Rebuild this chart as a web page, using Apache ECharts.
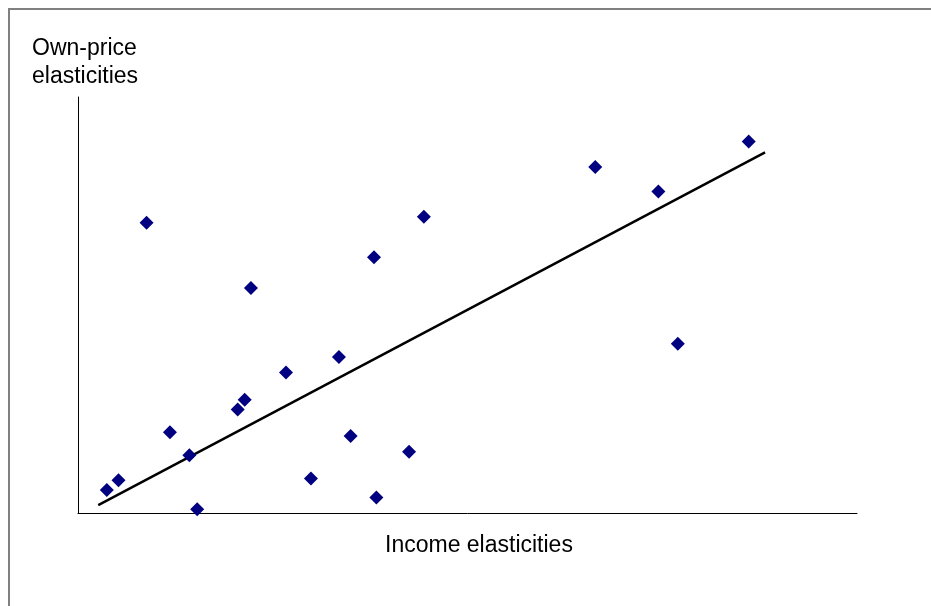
<!DOCTYPE html>
<html>
<head>
<meta charset="utf-8">
<script src="https://cdn.jsdelivr.net/npm/echarts@6/dist/echarts.min.js"></script>
<style>
html,body{margin:0;padding:0;background:#fff;}
#chart{width:931px;height:606px;}
</style>
</head>
<body>
<div id="chart"></div>
<script>
// Income elasticities (x) and own-price elasticities (y), relative scale 0-100
const incomeElasticities = [3.7, 5.2, 8.8, 11.8, 14.3, 15.3, 20.5, 21.4, 22.2, 26.7, 29.9, 33.5, 35.0, 38.0, 38.3, 42.5, 44.4, 66.4, 74.5, 77.0, 86.1];
const ownPriceElasticities = [5.5, 7.9, 69.8, 19.4, 13.9, 0.9, 24.9, 27.2, 54.1, 33.8, 8.3, 37.5, 18.5, 61.5, 3.7, 14.7, 71.2, 83.2, 77.3, 40.7, 89.3];
// Fitted trend line end points
const trendX = [2.6, 88.2];
const trendY = [1.9, 86.7];

const scatterData = incomeElasticities.map((x, i) => [x, ownPriceElasticities[i]]);
const trendData = trendX.map((x, i) => [x, trendY[i]]);

const labelFont = {fontFamily: 'Liberation Sans, Arial, sans-serif', fontSize: 23, fontWeight: 'normal', color: '#000', lineHeight: 28};

const chart = echarts.init(document.getElementById('chart'));
chart.setOption({
  animation: false,
  backgroundColor: '#ffffff',
  title: [
    {
      text: 'Own-price\nelasticities',
      left: 32, top: 35, padding: 0,
      textStyle: labelFont
    },
    {
      text: 'Income elasticities',
      left: 385, top: 532, padding: 0,
      textStyle: labelFont
    }
  ],
  graphic: [{
    type: 'rect',
    shape: {x: 9, y: 9, width: 1000, height: 1000},
    style: {fill: 'none', stroke: '#808080', lineWidth: 2},
    silent: true
  }],
  grid: {left: 78, top: 97, width: 779, height: 416},
  xAxis: {
    type: 'value', min: 0, max: 100,
    axisLine: {show: true, onZero: false, lineStyle: {color: '#000', width: 1}},
    axisTick: {show: false}, axisLabel: {show: false}, splitLine: {show: false}
  },
  yAxis: {
    type: 'value', min: 0, max: 100,
    axisLine: {show: true, onZero: false, lineStyle: {color: '#000', width: 1}},
    axisTick: {show: false}, axisLabel: {show: false}, splitLine: {show: false}
  },
  series: [
    {
      type: 'line',
      data: trendData,
      symbol: 'none',
      lineStyle: {color: '#000', width: 2.5},
      z: 2
    },
    {
      type: 'scatter',
      data: scatterData,
      symbol: 'diamond',
      symbolSize: 14,
      itemStyle: {color: '#000080', opacity: 1},
      z: 3
    }
  ]
});
</script>
</body>
</html>
